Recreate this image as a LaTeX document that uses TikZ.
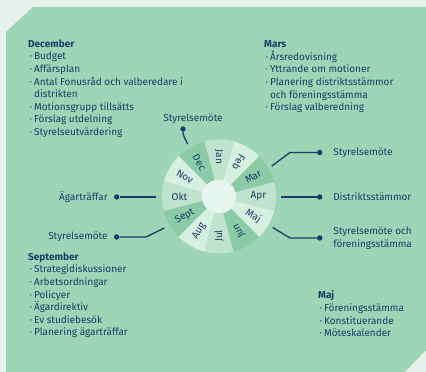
\documentclass[tikz,border=0pt]{standalone}
\usepackage{fontspec}
\setmainfont{Fira Sans}
\usetikzlibrary{positioning, calc}
\definecolor{navy}{HTML}{1B3C66}
\definecolor{paleBg}{HTML}{E6F3EC}
\definecolor{leaf}{HTML}{9DD5B6}
\definecolor{wheelDark}{HTML}{8BCBA6}
\definecolor{wheelMid}{HTML}{BFE3CD}
\definecolor{wheelPale}{HTML}{D5EFE0}
\definecolor{hub}{HTML}{E6F5ED}
\newcommand\itm{\hspace*{1.5pt}·\hspace{2pt}}
\newcommand\wrapitm{\hspace*{1.5pt}\phantom{·}\hspace{2pt}}

\begin{document}
\begin{tikzpicture}[x=1pt,y=1pt]
		\tikzstyle{BlockText} = [inner sep=0pt, align=left, anchor=north west, text=navy, font=\fontsize{10}{12.6}\selectfont]
		\tikzstyle{EventText} = [inner sep=0pt, align=left, text=navy, font=\fontsize{10}{12.6}\selectfont]
		\tikzstyle{MonthName} = [inner sep=0pt, text=navy, font=\fontsize{10}{12}\selectfont]
		\tikzstyle{dot} = [circle, fill=navy, inner sep=0pt, minimum size=5.4pt]
		\tikzstyle{link} = [navy, line width=1.3pt]
		
		\useasboundingbox (0,0) rectangle (426,372);
		\fill[paleBg] (0,0) rectangle (426,372);
		\fill[leaf] (6,0) -- (6,340) -- (33,365) -- (426,365) -- (426,22) -- (405,0) -- cycle;
		
		\coordinate (wheel) at (219,175.5);
		\foreach \ang/\mon/\shade/\turn in {0/Apr/wheelMid/0, 30/Mar/wheelDark/30, 60/Feb/wheelPale/-120, 90/Jan/wheelMid/-90, 120/Dec/wheelDark/-60, 150/Nov/wheelPale/-30, 180/Okt/wheelMid/0, 210/Sept/wheelDark/30, 240/Aug/wheelPale/60, 270/Jul/wheelMid/90, 300/Jun/wheelDark/120, 330/Maj/wheelPale/-30}
		{
			\fill[\shade] (wheel) -- ++(\ang-15:57) arc[start angle=\ang-15, end angle=\ang+15, radius=57] -- cycle;
			\node (m\mon) [MonthName, rotate=\turn] at ([shift={(\ang:39.5)}]wheel) {\mon};
		}
		\fill[hub] (wheel) circle[radius=17];
		
		\node (december) [BlockText] at (28,332.5) {\textbf{December}\\ \itm Budget\\ \itm Affärsplan\\ \itm Antal Fonusråd och valberedare i\\ \wrapitm distrikten\\ \itm Motionsgrupp tillsätts\\ \itm Förslag utdelning\\ \itm Styrelseutvärdering};
		\node (mars) [BlockText] at (264,331.5) {\textbf{Mars}\\ \itm Årsredovisning\\ \itm Yttrande om motioner\\ \itm Planering distriktsstämmor\\ \wrapitm och föreningsstämma\\ \itm Förslag valberedning};
		\node (september) [BlockText] at (28,119.5) {\textbf{September}\\ \itm Strategidiskussioner\\ \itm Arbetsordningar\\ \itm Policyer\\ \itm Ägardirektiv\\ \itm Ev studiebesök\\ \itm Planering ägarträffar};
		\node (maj) [BlockText] at (318,81.5) {\textbf{Maj}\\ \itm Föreningsstämma\\ \itm Konstituerande\\ \itm Möteskalender};
		
		\node (dotDec) [dot] at (183,243) {};
		\node (dotMar) [dot] at (319.7,219.5) {};
		\node (dotApr) [dot] at (319.7,175) {};
		\node (dotMaj) [dot] at (319.7,134) {};
		\node (dotOkt) [dot] at (116.7,175) {};
		\node (dotSept) [dot] at (116.7,135) {};
		
		\node (decText) [EventText, above=2.5pt of dotDec, xshift=10pt] {Styrelsemöte};
		\node (marText) [EventText, right=10.5pt of dotMar] {Styrelsemöte};
		\node (aprText) [EventText, right=10.5pt of dotApr] {Distriktsstämmor};
		\node (majText) [EventText, right=10.5pt of dotMaj] {Styrelsemöte och\\föreningsstämma};
		\node (oktText) [EventText, left=6pt of dotOkt] {Ägarträffar};
		\node (septText) [EventText, left=6pt of dotSept] {Styrelsemöte};
		
		\coordinate (decEnd) at ([shift={(121:61)}]wheel);
		\coordinate (marEnd) at ([shift={(30:61)}]wheel);
		\coordinate (aprEnd) at (281,175);
		\coordinate (majEnd) at ([shift={(-30:62)}]wheel);
		\coordinate (oktEnd) at (156,175);
		\coordinate (septEnd) at ([shift={(210:63)}]wheel);
		\coordinate (marBend) at (290,219.5);
		\coordinate (majBend) at (290,134);
		\coordinate (septBend) at (146,135);
		
		\draw[link] (dotDec) .. controls +(0,-8) and +(-2,6) .. (decEnd);
		\draw[link] (marEnd) -- (marBend) -- (dotMar);
		\draw[link] (aprEnd) -- (dotApr);
		\draw[link] (majEnd) -- (majBend) -- (dotMaj);
		\draw[link] (oktEnd) -- (dotOkt);
		\draw[link] (septEnd) -- (septBend) -- (dotSept);
\end{tikzpicture}
\end{document}
